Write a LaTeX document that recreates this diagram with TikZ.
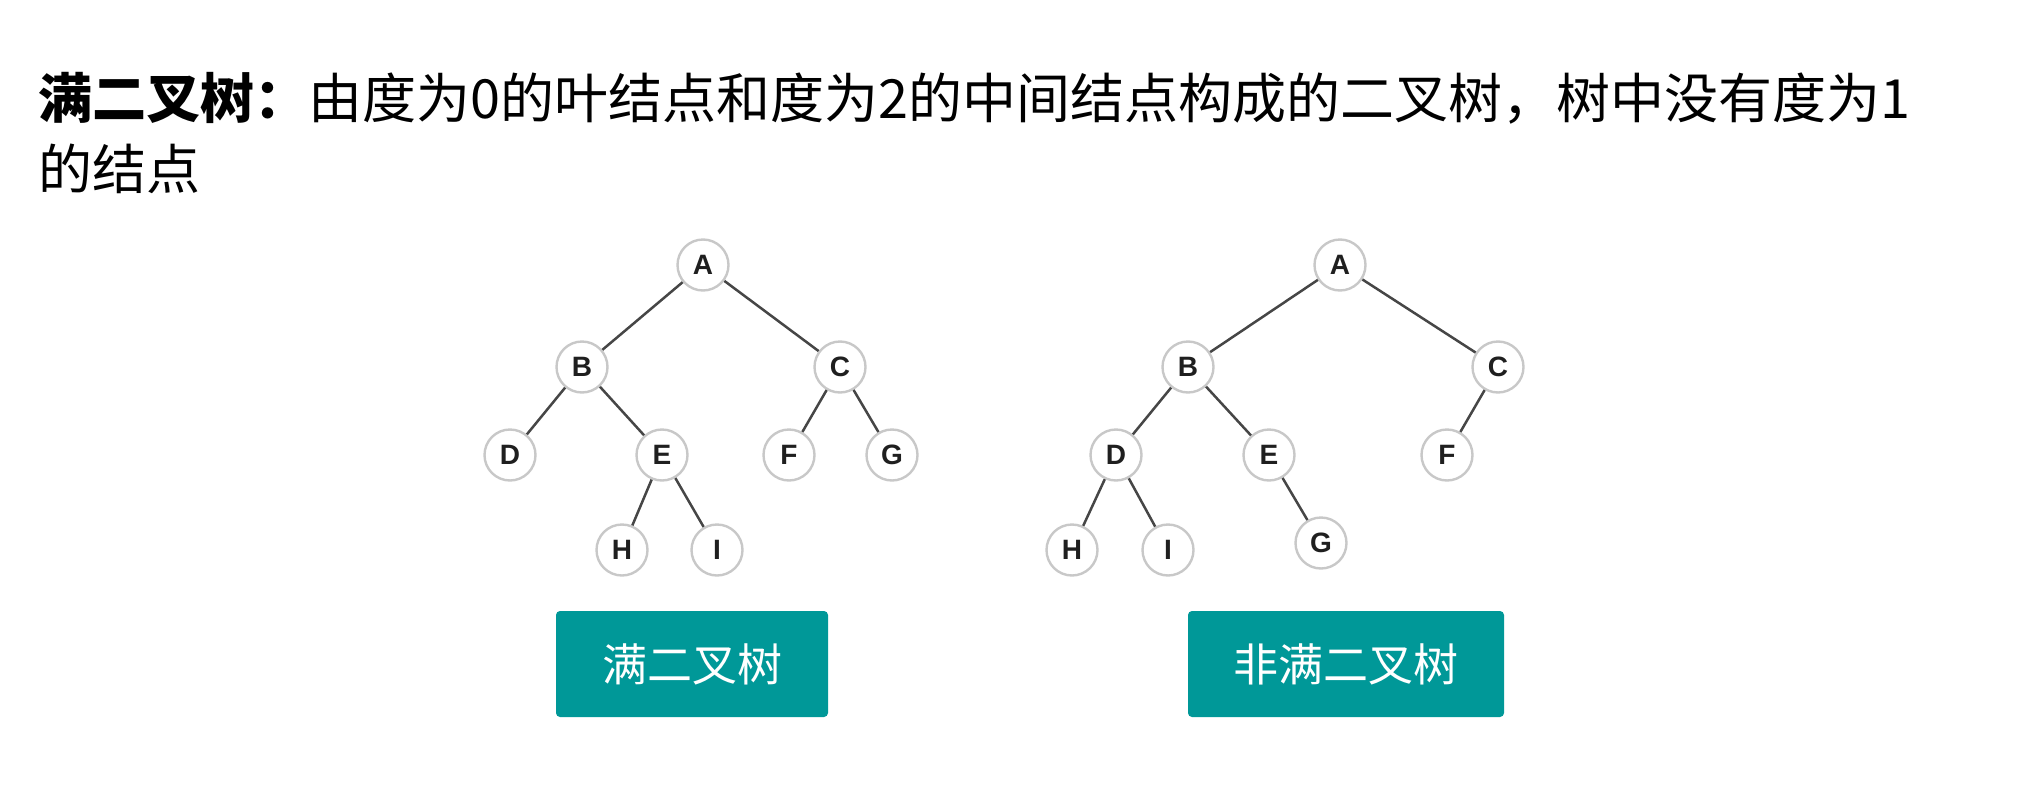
\documentclass[tikz,border=0pt]{standalone}
\usepackage{fontspec}
\setmainfont{Noto Sans CJK SC}
\newfontfamily\lettersf{Liberation Sans}
\usepackage{xcolor}
\definecolor{btnteal}{RGB}{0,152,152}
\definecolor{ringgray}{RGB}{200,200,200}
\definecolor{edgegray}{RGB}{70,70,70}

\begin{document}
\begin{tikzpicture} [x=.5pt, y=-.5pt,
  vert/.style={circle, draw=ringgray, line width=1.2pt, fill=white, minimum size=25.5pt, inner sep=0, text=black!88, font=\lettersf\bfseries\fontsize{14}{14}\selectfont},
  edge/.style={draw=edgegray, line width=1.25pt},
  btn/.style={fill=btnteal, rounded corners=2pt, text=white, minimum height=53pt, inner sep=0, font=\fontsize{22.5}{22.5}\selectfont}]
\useasboundingbox (0,0) rectangle (2020,798);
% heading
\node[anchor=base west, inner sep=0, font=\fontsize{27}{27}\selectfont] (title) at (38,118) {\textbf{满二叉树：}由度为0的叶结点和度为2的中间结点构成的二叉树，树中没有度为1};
\node[anchor=base west, inner sep=0, font=\fontsize{27}{27}\selectfont] (title2) at (38,189) {的结点};
% full tree
\foreach \n/\x/\y in {a/703/265, b/582/367, c/840/367, d/510/455, e/662/455, f/789/455, g/892/455, h/622/550, i/717/550} {
  \node[vert] (l\n) at (\x,\y) {\MakeUppercase{\n}};
}
\foreach \u/\v in {a/b, a/c, b/d, b/e, c/f, c/g, e/h, e/i} {
  \draw[edge] (l\u)--(l\v);
}
% non-full tree
\foreach \n/\x/\y in {a/1340/265, b/1188/367, c/1498/367, d/1116/455, e/1269/455, f/1447/455, h/1072/550, i/1168/550, g/1321/543} {
  \node[vert] (r\n) at (\x,\y) {\MakeUppercase{\n}};
}
\foreach \u/\v in {a/b, a/c, b/d, b/e, c/f, d/h, d/i, e/g} {
  \draw[edge] (r\u)--(r\v);
}
% labels
\node[btn, minimum width=136pt] (fullbtn) at (692,664) {满二叉树};
\node[btn, minimum width=158pt] (nonfullbtn) at (1346,664) {非满二叉树};
\end{tikzpicture}
\end{document}
